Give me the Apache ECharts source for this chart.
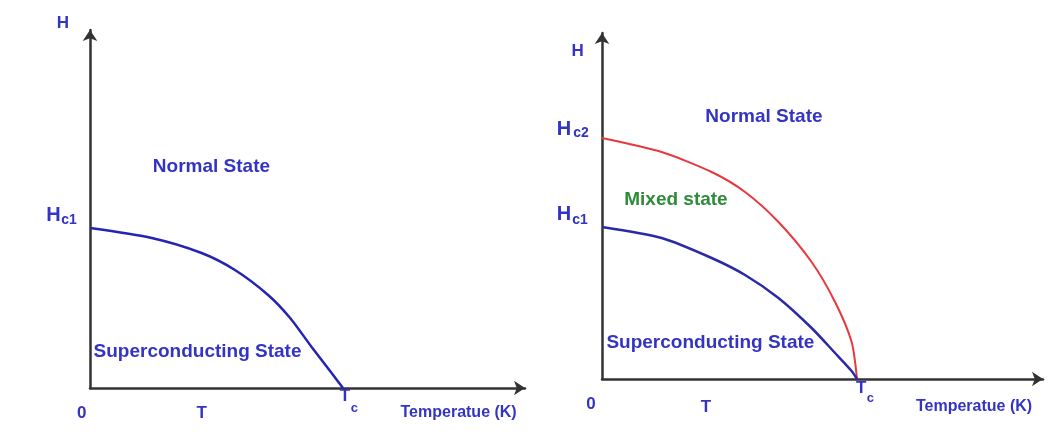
<!DOCTYPE html>
<html>
<head>
<meta charset="utf-8">
<script src="https://cdn.jsdelivr.net/npm/echarts@6/dist/echarts.min.js"></script>
<style>
html,body{margin:0;padding:0;background:#fff;}
#c{width:1063px;height:434px;}
</style>
</head>
<body>
<div id="c"></div>
<script>
// ---- data (T in units of Tc, H in arbitrary field units) ----
const tLeft = [0, 0.244, 0.441, 0.573, 0.704, 0.791, 0.876, 0.955, 1];
const hc1Left = [1.60, 1.50, 1.35, 1.18, 0.93, 0.70, 0.41, 0.15, 0];

const tRight = [0, 0.234, 0.430, 0.561, 0.692, 0.822, 0.914, 0.979, 1];
const hc2Right = [2.41, 2.27, 2.07, 1.87, 1.57, 1.17, 0.77, 0.37, 0];
const hc1Right = [1.52, 1.41, 1.21, 1.04, 0.81, 0.51, 0.26, 0.08, 0];

// annotation texts: [text, T, H, style-key]
const labelsLeft = [
  ['H', -0.107, 3.65, 'axis'],
  ['H', -0.144, 1.73, 'big'], ['c1', -0.083, 1.68, 'sub'],
  ['Normal State', 0.480, 2.215, 'state'],
  ['Superconducting State', 0.425, 0.365, 'state'],
  ['0', -0.033, -0.25, 'tick'],
  ['T', 0.441, -0.25, 'tick'],
  ['T', 1.008, -0.08, 'tick'], ['c', 1.045, -0.20, 'subsm'],
  ['Temperatue (K)', 1.457, -0.25, 'name']
];
const labelsRight = [
  ['H', -0.096, 3.28, 'axis'],
  ['H', -0.149, 2.50, 'big'], ['c2', -0.082, 2.46, 'sub'],
  ['H', -0.149, 1.65, 'big'], ['c1', -0.086, 1.59, 'sub'],
  ['Normal State', 0.635, 2.62, 'state'],
  ['Mixed state', 0.290, 1.79, 'mixed'],
  ['Superconducting State', 0.425, 0.36, 'state'],
  ['0', -0.043, -0.25, 'tick'],
  ['T', 0.408, -0.28, 'tick'],
  ['T', 1.016, -0.09, 'tick'], ['c', 1.052, -0.19, 'subsm'],
  ['Temperatue (K)', 1.459, -0.28, 'name']
];

const FF = '"Liberation Sans", Arial, sans-serif';
const BLUE_TXT = '#3434c4';
const styles = {
  axis:  {font: 'bold 17px ' + FF, fill: BLUE_TXT},
  big:   {font: 'bold 20px ' + FF, fill: BLUE_TXT},
  sub:   {font: 'bold 14px ' + FF, fill: BLUE_TXT},
  subsm: {font: 'bold 13px ' + FF, fill: BLUE_TXT},
  state: {font: 'bold 19px ' + FF, fill: BLUE_TXT},
  mixed: {font: 'bold 19px ' + FF, fill: '#2f8a3a'},
  tick:  {font: 'bold 17px ' + FF, fill: BLUE_TXT},
  name:  {font: 'bold 16px ' + FF, fill: BLUE_TXT}
};

const chart = echarts.init(document.getElementById('c'), null, {renderer: 'canvas'});

function axisStyle() {
  return {
    show: true,
    onZero: false,
    symbol: ['none', 'arrow'],
    symbolSize: [11, 11],
    lineStyle: {color: '#333333', width: 2.5}
  };
}
function xAxis(gi, max) {
  return {type: 'value', gridIndex: gi, min: 0, max: max,
    axisLine: axisStyle(), axisTick: {show: false}, axisLabel: {show: false}, splitLine: {show: false}};
}
function yAxis(gi, max) {
  return {type: 'value', gridIndex: gi, min: 0, max: max,
    axisLine: axisStyle(), axisTick: {show: false}, axisLabel: {show: false}, splitLine: {show: false}};
}
function pairs(ts, hs) { return ts.map((t, i) => [t, hs[i]]); }
function curve(xi, data, color, width) {
  return {type: 'line', xAxisIndex: xi, yAxisIndex: xi, data: data,
    smooth: 0.25, showSymbol: false,
    lineStyle: {color: color, width: width}};
}

chart.setOption({
  animation: false,
  backgroundColor: '#ffffff',
  grid: [
    {left: 90, top: 30, width: 435, height: 358},
    {left: 602, top: 33, width: 441, height: 346}
  ],
  xAxis: [xAxis(0, 435 / 253), xAxis(1, 441 / 255)],
  yAxis: [yAxis(0, 3.58), yAxis(1, 3.46)],
  series: [
    curve(0, pairs(tLeft, hc1Left), '#2424b4', 2.5),
    curve(1, pairs(tRight, hc2Right), '#e8383c', 2),
    curve(1, pairs(tRight, hc1Right), '#2a2aa8', 2.5)
  ]
});

const graphics = [];
[[labelsLeft, 0], [labelsRight, 1]].forEach(([labels, gi]) => {
  labels.forEach(([text, t, h, key]) => {
    const p = chart.convertToPixel({gridIndex: gi}, [t, h]);
    graphics.push({
      type: 'text', x: p[0], y: p[1], z: 10,
      style: Object.assign({text: text, align: 'center', verticalAlign: 'middle'}, styles[key])
    });
  });
});
chart.setOption({graphic: graphics});
</script>
</body>
</html>
